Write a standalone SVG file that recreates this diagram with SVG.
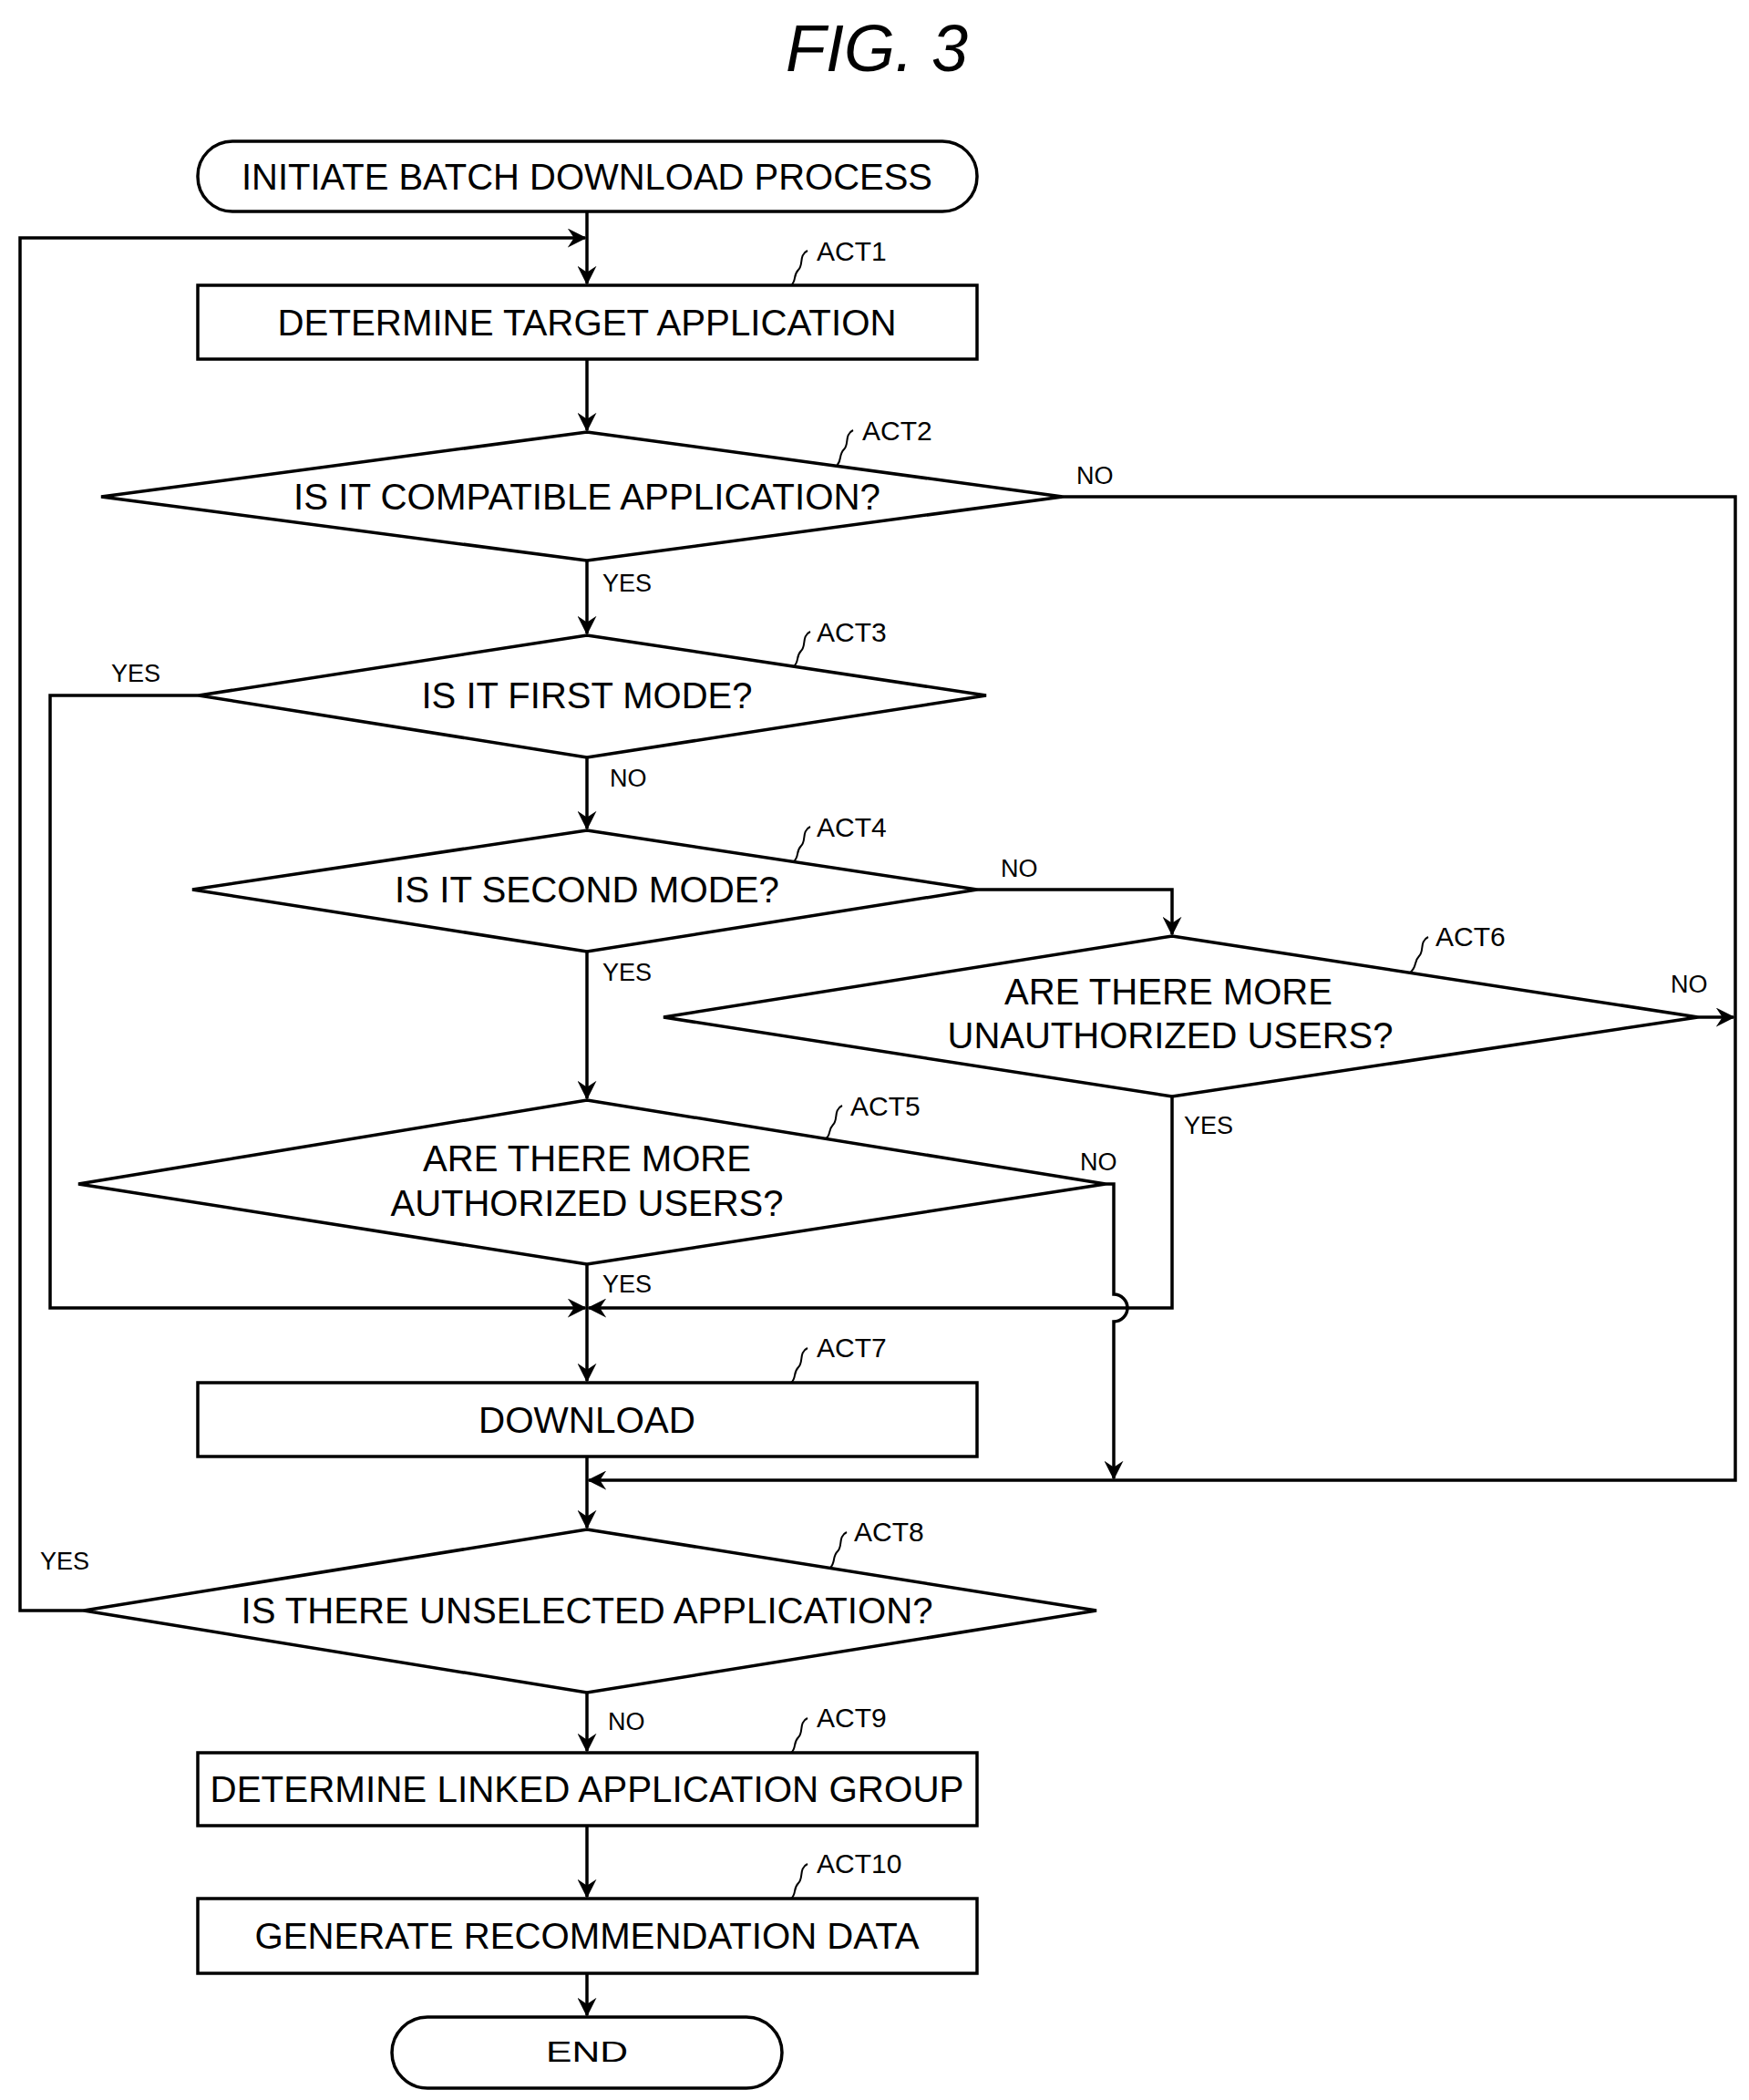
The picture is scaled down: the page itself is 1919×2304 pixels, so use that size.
<svg xmlns="http://www.w3.org/2000/svg" width="1919" height="2304" viewBox="0 0 1919 2304">
<defs>
<style>
.s{fill:#fff;stroke:#000;stroke-width:3.5}
.c{fill:none;stroke:#000;stroke-width:3.5}
.l{fill:none;stroke:#000;stroke-width:2}
.t{font-family:"Liberation Sans",Arial,sans-serif;font-size:40px;text-anchor:middle}
.a{font-family:"Liberation Sans",Arial,sans-serif;font-size:30px}
.y{font-family:"Liberation Sans",Arial,sans-serif;font-size:27px}
</style>
<marker id="ar" viewBox="0 0 12 12" refX="11" refY="6" markerWidth="6" markerHeight="6" orient="auto" markerUnits="strokeWidth">
<path d="M0,0 L12,6 L0,12 L4,6 Z" fill="#000"/>
</marker>
</defs>
<rect width="1919" height="2304" fill="#fff"/>
<text x="962" y="78" style="font-family:'Liberation Sans',Arial,sans-serif;font-size:72px;font-style:italic" text-anchor="middle">FIG. 3</text>
<g id="connectors">
<path class="c" marker-end="url(#ar)" d="M644,232 V311"/>
<path class="c" marker-end="url(#ar)" d="M92,1767 H22 V261 H642"/>
<path class="c" marker-end="url(#ar)" d="M644,394 V472"/>
<path class="c" marker-end="url(#ar)" d="M644,615 V695"/>
<path class="c" marker-end="url(#ar)" d="M1166,545 H1904 V1624 H646"/>
<path class="c" marker-end="url(#ar)" d="M644,831 V909"/>
<path class="c" marker-end="url(#ar)" d="M218,763 H55 V1435 H642"/>
<path class="c" marker-end="url(#ar)" d="M644,1044 V1205"/>
<path class="c" marker-end="url(#ar)" d="M1072,976 H1286 V1025"/>
<path class="c" marker-end="url(#ar)" d="M1863,1116 H1902"/>
<path class="c" marker-end="url(#ar)" d="M1286,1203 V1435 H646"/>
<path class="c" marker-end="url(#ar)" d="M644,1387 V1515"/>
<path class="c" marker-end="url(#ar)" d="M1213,1299 H1222 V1420 A15,15 0 0 1 1222,1450 V1622"/>
<path class="c" marker-end="url(#ar)" d="M644,1598 V1676"/>
<path class="c" marker-end="url(#ar)" d="M644,1857 V1921"/>
<path class="c" marker-end="url(#ar)" d="M644,2003 V2081"/>
<path class="c" marker-end="url(#ar)" d="M644,2165 V2211"/>
</g>
<g id="start"><rect class="s" x="217" y="155" width="855" height="77" rx="38"/><text class="t" x="644" y="208" textLength="758" lengthAdjust="spacingAndGlyphs">INITIATE BATCH DOWNLOAD PROCESS</text></g>
<g id="act1"><rect class="s" x="217" y="313" width="855" height="81"/><text class="t" x="644" y="368" textLength="679" lengthAdjust="spacingAndGlyphs">DETERMINE TARGET APPLICATION</text>
<path class="l" d="M886,275 C876,280 882,290 876,296 C870,302 874,308 868,313"/><text class="a" x="896" y="286">ACT1</text></g>
<g id="act2"><polygon class="s" points="644,474 1166,545 644,615 111,545"/><text class="t" x="644" y="559" textLength="644" lengthAdjust="spacingAndGlyphs">IS IT COMPATIBLE APPLICATION?</text>
<path class="l" d="M936,472 C926,477 932,487 926,493 C920,499 924,505 918,511"/><text class="a" x="946" y="483">ACT2</text>
<text class="y" x="1181" y="531">NO</text><text class="y" x="661" y="649">YES</text></g>
<g id="act3"><polygon class="s" points="644,697 1082,763 644,831 218,763"/><text class="t" x="644" y="777" textLength="363" lengthAdjust="spacingAndGlyphs">IS IT FIRST MODE?</text>
<path class="l" d="M889,693 C879,698 885,708 879,714 C873,720 877,726 871,731"/><text class="a" x="896" y="704">ACT3</text>
<text class="y" x="122" y="748">YES</text><text class="y" x="669" y="863">NO</text></g>
<g id="act4"><polygon class="s" points="644,911 1072,976 644,1044 211,976"/><text class="t" x="644" y="990" textLength="422" lengthAdjust="spacingAndGlyphs">IS IT SECOND MODE?</text>
<path class="l" d="M889,907 C879,912 885,922 879,928 C873,934 877,940 871,945"/><text class="a" x="896" y="918">ACT4</text>
<text class="y" x="1098" y="962">NO</text><text class="y" x="661" y="1076">YES</text></g>
<g id="act6"><polygon class="s" points="1286,1027 1863,1116 1286,1203 728,1116"/><text class="t" x="1282" y="1102" textLength="360" lengthAdjust="spacingAndGlyphs">ARE THERE MORE</text><text class="t" x="1284" y="1150" textLength="489" lengthAdjust="spacingAndGlyphs">UNAUTHORIZED USERS?</text>
<path class="l" d="M1567,1028 C1557,1033 1563,1043 1557,1049 C1551,1055 1555,1061 1547,1067"/><text class="a" x="1575" y="1038">ACT6</text>
<text class="y" x="1833" y="1089">NO</text><text class="y" x="1299" y="1244">YES</text></g>
<g id="act5"><polygon class="s" points="644,1207 1213,1299 644,1387 86,1299"/><text class="t" x="644" y="1285" textLength="360" lengthAdjust="spacingAndGlyphs">ARE THERE MORE</text><text class="t" x="644" y="1334" textLength="431" lengthAdjust="spacingAndGlyphs">AUTHORIZED USERS?</text>
<path class="l" d="M924,1213 C914,1218 920,1228 914,1234 C908,1240 912,1246 906,1249"/><text class="a" x="933" y="1224">ACT5</text>
<text class="y" x="1185" y="1284">NO</text><text class="y" x="661" y="1418">YES</text></g>
<g id="act7"><rect class="s" x="217" y="1517" width="855" height="81"/><text class="t" x="644" y="1572" textLength="238" lengthAdjust="spacingAndGlyphs">DOWNLOAD</text>
<path class="l" d="M886,1479 C876,1484 882,1494 876,1500 C870,1506 874,1512 868,1517"/><text class="a" x="896" y="1489">ACT7</text></g>
<g id="act8"><polygon class="s" points="644,1678 1203,1767 644,1857 92,1767"/><text class="t" x="644" y="1781" textLength="759" lengthAdjust="spacingAndGlyphs">IS THERE UNSELECTED APPLICATION?</text>
<path class="l" d="M929,1681 C919,1686 925,1696 919,1702 C913,1708 917,1714 911,1720"/><text class="a" x="937" y="1691">ACT8</text>
<text class="y" x="44" y="1722">YES</text><text class="y" x="667" y="1898">NO</text></g>
<g id="act9"><rect class="s" x="217" y="1923" width="855" height="80"/><text class="t" x="644" y="1977" textLength="827" lengthAdjust="spacingAndGlyphs">DETERMINE LINKED APPLICATION GROUP</text>
<path class="l" d="M886,1885 C876,1890 882,1900 876,1906 C870,1912 874,1918 868,1923"/><text class="a" x="896" y="1895">ACT9</text></g>
<g id="act10"><rect class="s" x="217" y="2083" width="855" height="82"/><text class="t" x="644" y="2138" textLength="729" lengthAdjust="spacingAndGlyphs">GENERATE RECOMMENDATION DATA</text>
<path class="l" d="M886,2045 C876,2050 882,2060 876,2066 C870,2072 874,2078 868,2083"/><text class="a" x="896" y="2055">ACT10</text></g>
<g id="end"><rect class="s" x="430" y="2213" width="428" height="78" rx="39"/><text class="t" x="644" y="2262" style="font-size:32px" textLength="90" lengthAdjust="spacingAndGlyphs">END</text></g>
</svg>
